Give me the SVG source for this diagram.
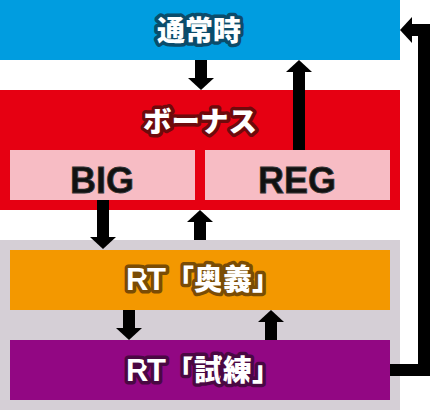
<svg xmlns="http://www.w3.org/2000/svg" width="430" height="410" viewBox="0 0 430 410">
<defs>
<style>
.jp{font-family:"Noto Sans CJK JP","Noto Sans",sans-serif;font-weight:900;fill:#fff;paint-order:stroke;stroke-linejoin:round;stroke-width:7}
.rt{font-family:"Liberation Sans","Noto Sans CJK JP",sans-serif;font-weight:bold;fill:#fff;paint-order:stroke;stroke-linejoin:round;stroke-width:7}
.lat{font-family:"Liberation Sans",Arial,sans-serif;font-weight:bold;font-size:36px;fill:#111;stroke:#333;stroke-width:0.8;text-anchor:middle}
.conn{stroke:#000;stroke-width:12;fill:none;marker-end:url(#ah)}
</style>
<marker id="ah" markerUnits="userSpaceOnUse" markerWidth="12" markerHeight="26" viewBox="0 0 12 26" refX="0" refY="13" orient="auto">
<path d="M0,0 L12,13 L0,26 z" fill="#000"/>
</marker>
</defs>
<rect width="430" height="410" fill="#fff"/>
<g id="normal">
<rect x="0" y="0" width="400" height="60" fill="#009de0"/>
<text class="jp" x="199" y="41" font-size="28" text-anchor="middle" stroke="#0b4c6b">通常時</text>
</g>
<g id="bonus">
<rect x="0" y="90" width="400" height="120" fill="#e60012"/>
<text class="jp" x="200" y="132" font-size="28.5" text-anchor="middle" stroke="#6e0a0c">ボーナス</text>
</g>
<g id="big">
<rect x="10" y="150" width="185" height="50" fill="#f7bcc4"/>
<text class="lat" x="102" y="192.5">BIG</text>
</g>
<g id="reg">
<rect x="205" y="150" width="185" height="50" fill="#f7bcc4"/>
<text class="lat" x="297" y="192.5">REG</text>
</g>
<g id="rt-area">
<rect x="0" y="240" width="400" height="170" fill="#d5cfd6"/>
</g>
<g id="rt-ougi">
<rect x="10" y="250" width="380" height="60" fill="#f39800"/>
<text class="rt" y="290" font-size="31" stroke="#7a4c05"><tspan x="126">R</tspan><tspan x="147">T</tspan><tspan class="jp" x="166" font-size="28" stroke="#7a4c05">「</tspan><tspan class="jp" x="194" font-size="29" stroke="#7a4c05">奥</tspan><tspan class="jp" x="223" font-size="29" stroke="#7a4c05">義</tspan><tspan class="jp" x="252" font-size="28" stroke="#7a4c05">」</tspan></text>
</g>
<g id="rt-shiren">
<rect x="10" y="340" width="380" height="60" fill="#920783"/>
<text class="rt" y="381" font-size="31" stroke="#4a0843"><tspan x="126">R</tspan><tspan x="147">T</tspan><tspan class="jp" x="166" font-size="28" stroke="#4a0843">「</tspan><tspan class="jp" x="194" font-size="29" stroke="#4a0843">試</tspan><tspan class="jp" x="223" font-size="29" stroke="#4a0843">練</tspan><tspan class="jp" x="252" font-size="28" stroke="#4a0843">」</tspan></text>
</g>
<g id="connectors">
<line class="conn" x1="201" y1="60" x2="201" y2="78"/>
<line class="conn" x1="299" y1="150" x2="299" y2="72"/>
<line class="conn" x1="103" y1="200" x2="103" y2="237"/>
<line class="conn" x1="200" y1="240" x2="200" y2="222"/>
<line class="conn" x1="129" y1="310" x2="129" y2="328"/>
<line class="conn" x1="271" y1="340" x2="271" y2="322"/>
<path class="conn" d="M390,370 H424 V30 H412" stroke-linejoin="miter"/>
</g>
</svg>
